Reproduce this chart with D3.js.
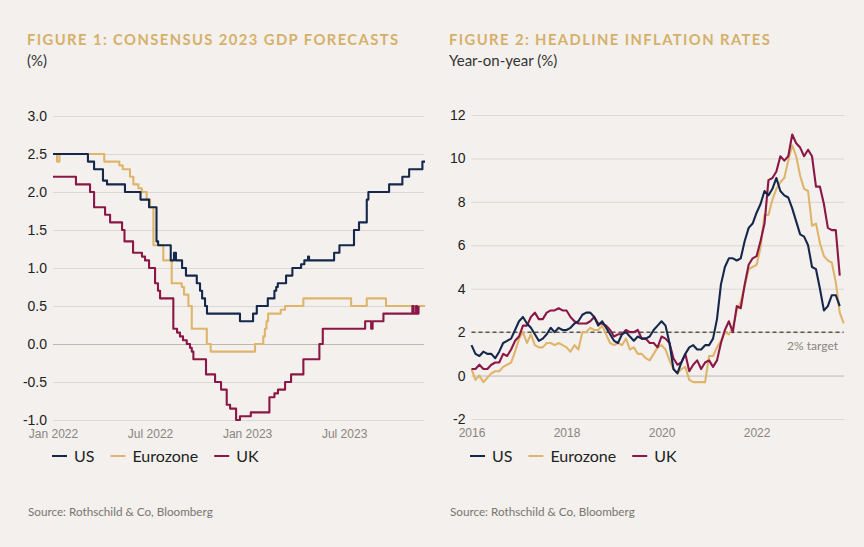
<!DOCTYPE html>
<html>
<head>
<meta charset="utf-8">
<script src="https://cdn.jsdelivr.net/npm/d3@7"></script>
<style>
  body { margin: 0; background: #f3f0ed; }
  svg { display: block; font-family: Lato, "Noto Sans", sans-serif; }
  .title { fill: #d6b06a; font-weight: 700; font-size: 14.8px; letter-spacing: 1.4px; }
  .sub { fill: #333; font-size: 15px; }
  .ytick text { fill: #222; font-size: 14px; }
  .xtick text { fill: #8a8580; font-size: 12px; }
  .grid line { stroke: #dcd7d2; stroke-width: 1; }
  .legend text { fill: #222; font-size: 16px; }
  .source { fill: #7a7570; font-size: 11.7px; }
</style>
</head>
<body>
<svg id="chart" width="864" height="547"></svg>
<script>
// ---- data ----
const seriesNames = ["US", "Eurozone", "UK"];
const colors = ["#15284c", "#dfb56c", "#8b1746"];
const drawOrder = [1, 2, 0]; // US drawn on top

// Figure 1: consensus 2023 GDP forecasts, [months since Jan 2022, %]
const gdpUS = [[0,2.5],[2.16,2.4],[2.54,2.3],[3.09,2.15],[3.34,2.1],[4.45,2.0],[5.41,1.9],[5.94,1.8],
  [6.4,1.35],[6.5,1.3],[7.28,1.1],[7.48,1.2],[7.6,1.1],[7.98,1.0],[8.22,0.9],[8.89,0.8],[9.09,0.7],
  [9.22,0.6],[9.4,0.5],[9.52,0.4],[11.56,0.3],[12.37,0.4],[12.6,0.5],[13.28,0.6],[13.69,0.7],[13.8,0.75],
  [13.9,0.8],[14.41,0.9],[14.8,1.0],[15.34,1.05],[15.54,1.1],[15.77,1.15],[15.83,1.1],[17.38,1.2],
  [17.71,1.3],[18.61,1.5],[18.92,1.6],[19.4,1.9],[19.5,2.0],[20.78,2.1],[21.6,2.2],[22.02,2.3],
  [22.84,2.4],[23,2.4]];
const gdpEZ = [[0,2.5],[0.25,2.4],[0.4,2.5],[3.17,2.4],[4.1,2.35],[4.31,2.3],[4.76,2.2],[4.97,2.1],
  [5.28,2.05],[5.49,2.0],[5.79,1.9],[6.0,1.8],[6.21,1.3],[6.82,1.1],[7.34,0.8],[7.96,0.75],[8.1,0.65],
  [8.37,0.5],[8.58,0.2],[9.51,0.0],[9.75,-0.1],[12.49,0.0],[13.0,0.1],[13.1,0.2],[13.2,0.3],[13.3,0.4],
  [14.08,0.45],[14.35,0.5],[15.48,0.6],[18.43,0.5],[19.4,0.6],[20.59,0.5],[23,0.5]];
const gdpUK = [[0,2.2],[1.42,2.1],[2.29,2.0],[2.54,1.8],[3.22,1.7],[3.53,1.6],[4.27,1.5],[4.42,1.35],
  [4.95,1.2],[5.5,1.15],[5.69,1.1],[5.94,1.0],[6.31,0.8],[6.49,0.7],[6.62,0.6],[7.44,0.2],[7.67,0.15],
  [7.85,0.1],[8.04,0.05],[8.27,0.0],[8.47,-0.05],[8.58,-0.1],[8.68,-0.2],[9.46,-0.4],[10.02,-0.5],
  [10.39,-0.6],[10.74,-0.8],[10.95,-0.85],[11.32,-1.0],[11.56,-0.95],[12.23,-0.9],[13.38,-0.7],
  [13.69,-0.65],[13.91,-0.6],[14.35,-0.5],[14.72,-0.4],[15.48,-0.2],[16.47,0.0],[16.68,0.2],[19.3,0.3],
  [19.67,0.2],[19.76,0.3],[20.43,0.4],[22.22,0.5],[22.3,0.4],[22.45,0.5],[22.51,0.4],[22.6,0.5]];
const gdpTicks = [0, 6, 12, 18];
const gdpTickLabels = ["Jan 2022", "Jul 2022", "Jan 2023", "Jul 2023"];
const gdpYTicks = [-1, -0.5, 0, 0.5, 1, 1.5, 2, 2.5, 3];

// Figure 2: headline inflation, monthly from Jan 2016 (% y/y)
const cpiUS = [1.4,1.0,0.9,1.1,1.0,1.0,0.8,1.1,1.5,1.6,1.7,2.1,
  2.5,2.7,2.4,2.2,1.9,1.6,1.7,1.9,2.2,2.0,2.2,2.1,
  2.1,2.2,2.4,2.5,2.8,2.9,2.9,2.7,2.3,2.5,2.2,1.9,
  1.6,1.5,1.9,2.0,1.8,1.6,1.8,1.7,1.7,1.8,2.1,2.3,
  2.5,2.3,1.5,0.3,0.1,0.6,1.0,1.3,1.4,1.2,1.2,1.4,
  1.4,1.7,2.6,4.2,5.0,5.4,5.4,5.3,5.4,6.2,6.8,7.0,
  7.5,7.9,8.5,8.3,8.6,9.1,8.5,8.3,8.2,7.7,7.1,6.5,
  6.4,6.0,5.0,4.9,4.0,3.0,3.2,3.7,3.7,3.2];
const cpiEZ = [0.3,-0.2,0.0,-0.3,-0.1,0.1,0.2,0.2,0.4,0.5,0.6,1.1,
  1.7,2.0,1.5,1.9,1.4,1.3,1.3,1.5,1.5,1.4,1.5,1.4,
  1.3,1.1,1.4,1.2,2.0,2.0,2.2,2.1,2.1,2.3,1.9,1.5,
  1.4,1.5,1.4,1.7,1.2,1.3,1.0,1.0,0.8,0.7,1.0,1.3,
  1.4,1.2,0.7,0.3,0.1,0.3,0.4,-0.2,-0.3,-0.3,-0.3,-0.3,
  0.9,0.9,1.3,1.6,2.0,1.9,2.2,3.0,3.4,4.1,4.9,5.0,
  5.1,5.9,7.4,7.4,8.1,8.6,8.9,9.1,9.9,10.6,10.1,9.2,
  8.6,8.5,6.9,7.0,6.1,5.5,5.3,5.2,4.3,2.9,2.4];
const cpiUK = [0.3,0.3,0.5,0.3,0.3,0.5,0.6,0.6,1.0,0.9,1.2,1.6,
  1.8,2.3,2.3,2.7,2.9,2.6,2.6,2.9,3.0,3.0,3.1,3.0,
  3.0,2.7,2.5,2.4,2.4,2.4,2.5,2.7,2.4,2.4,2.3,2.1,
  1.8,1.9,1.9,2.1,2.0,2.0,2.1,1.7,1.7,1.5,1.5,1.3,
  1.8,1.7,1.5,0.8,0.5,0.6,1.0,0.2,0.5,0.7,0.3,0.6,
  0.7,0.4,0.7,1.5,2.1,2.5,2.0,3.2,3.1,4.2,5.1,5.4,
  5.5,6.2,7.0,9.0,9.1,9.4,10.1,9.9,10.1,11.1,10.7,10.5,
  10.1,10.4,10.1,8.7,8.7,7.9,6.8,6.7,6.7,4.6];
const cpiTicks = [0, 24, 48, 72];
const cpiTickLabels = ["2016", "2018", "2020", "2022"];
const cpiYTicks = [-2, 0, 2, 4, 6, 8, 10, 12];
const inflationTarget = 2;

const svg = d3.select("#chart");

function drawPanel(opts) {
  const g = svg.append("g");
  const x = d3.scaleLinear().domain(opts.xDomain).range(opts.xRange);
  const y = d3.scaleLinear().domain(opts.yDomain).range(opts.yRange);

  g.append("text").attr("class", "title").attr("x", opts.left).attr("y", 45).text(opts.title);
  g.append("text").attr("class", "sub").attr("x", opts.left).attr("y", 66).text(opts.subtitle);

  // gridlines + y labels
  const yAxis = g.append("g")
    .attr("class", "grid ytick")
    .attr("transform", `translate(${opts.xRange[0]},0)`)
    .call(d3.axisLeft(y).tickValues(opts.yTicks).tickFormat(opts.yFormat)
      .tickSize(-(opts.gridEnd - opts.xRange[0])).tickPadding(6));
  yAxis.select(".domain").remove();
  yAxis.selectAll(".tick").filter(d => d === 0).select("line").style("stroke", "#bdb7b1");

  // x labels
  const xAxis = g.append("g")
    .attr("class", "xtick")
    .attr("transform", `translate(0,${opts.yRange[0]})`)
    .call(d3.axisBottom(x).tickValues(opts.xTicks).tickFormat((d, i) => opts.xLabels[i])
      .tickSize(0).tickPadding(9));
  xAxis.select(".domain").remove();

  if (opts.extra) opts.extra(g, x, y);

  const line = d3.line().x(d => x(d[0])).y(d => y(d[1])).curve(opts.curve);
  drawOrder.forEach(i => {
    g.append("path")
      .datum(opts.series[i])
      .attr("fill", "none")
      .attr("stroke", colors[i])
      .attr("stroke-width", 2.1)
      .attr("stroke-linejoin", "round")
      .attr("d", line);
  });

  // legend
  const leg = g.append("g").attr("class", "legend").attr("transform", `translate(${opts.legendX},456)`);
  let lx = 0;
  seriesNames.forEach((name, i) => {
    leg.append("line").attr("x1", lx).attr("x2", lx + 15).attr("y1", 0).attr("y2", 0)
      .attr("stroke", colors[i]).attr("stroke-width", 2);
    const t = leg.append("text").attr("x", lx + 22).attr("y", 6).text(name);
    lx += 22 + t.node().getComputedTextLength() + 16;
  });

  g.append("text").attr("class", "source").attr("x", opts.left + 1).attr("y", 516)
    .text("Source: Rothschild & Co, Bloomberg");
}

drawPanel({
  left: 27,
  title: "FIGURE 1: CONSENSUS 2023 GDP FORECASTS",
  subtitle: "(%)",
  xDomain: [0, 23], xRange: [53, 425], gridEnd: 424,
  yDomain: [-1, 3], yRange: [420, 116],
  yTicks: gdpYTicks, yFormat: d => d.toFixed(1),
  xTicks: gdpTicks, xLabels: gdpTickLabels,
  series: [gdpUS, gdpEZ, gdpUK],
  curve: d3.curveStepAfter,
  legendX: 52
});

drawPanel({
  left: 449,
  title: "FIGURE 2: HEADLINE INFLATION RATES",
  subtitle: "Year-on-year (%)",
  xDomain: [0, 94], xRange: [471.5, 843.7], gridEnd: 844,
  yDomain: [-2, 12], yRange: [419, 115],
  yTicks: cpiYTicks, yFormat: d => d,
  xTicks: cpiTicks, xLabels: cpiTickLabels,
  series: [cpiUS, cpiEZ, cpiUK].map(a => a.map((v, i) => [i, v])),
  curve: d3.curveLinear,
  legendX: 470,
  extra: (g, x, y) => {
    g.append("line")
      .attr("x1", x(0)).attr("x2", x(94)).attr("y1", y(inflationTarget)).attr("y2", y(inflationTarget))
      .attr("stroke", "#5a5652").attr("stroke-width", 1.5).attr("stroke-dasharray", "4,3");
    g.append("text").attr("x", 838).attr("y", y(inflationTarget) + 18)
      .attr("text-anchor", "end").attr("fill", "#8a8580").attr("font-size", 12)
      .text("2% target");
  }
});
</script>
</body>
</html>
